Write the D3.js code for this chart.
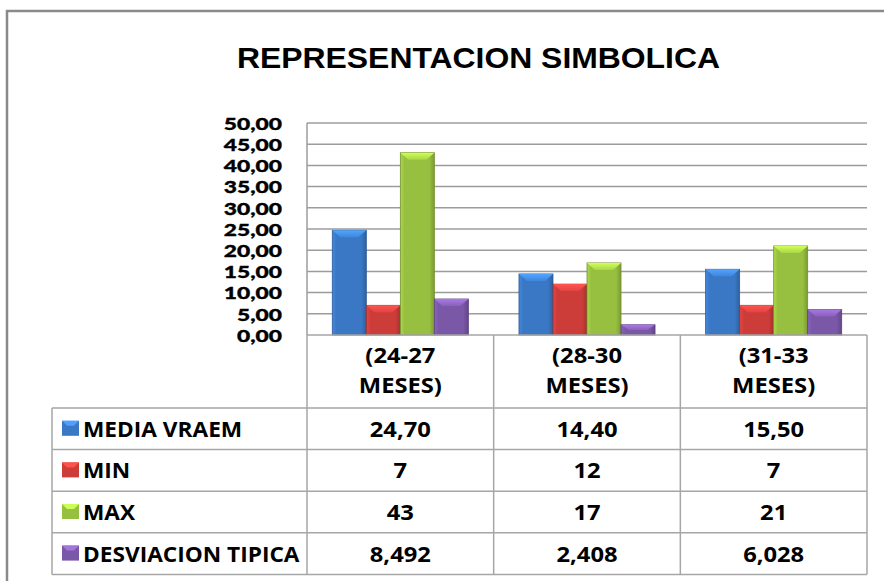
<!DOCTYPE html>
<html>
<head>
<meta charset="utf-8">
<script src="https://cdn.jsdelivr.net/npm/d3@7"></script>
<style>
  html, body { margin: 0; padding: 0; background: #fff; }
  svg { display: block; }
</style>
</head>
<body>
<svg id="chart" width="884" height="581"></svg>
<script>
// ---- DATA ----
const title = "REPRESENTACION SIMBOLICA";
const categories = ["(24-27 MESES)", "(28-30 MESES)", "(31-33 MESES)"];
const categoryLines = [["(24-27", "MESES)"], ["(28-30", "MESES)"], ["(31-33", "MESES)"]];
const seriesNames = ["MEDIA VRAEM", "MIN", "MAX", "DESVIACION TIPICA"];
const mediaVraem = [24.70, 14.40, 15.50];
const minValues = [7, 12, 7];
const maxValues = [43, 17, 21];
const desviacionTipica = [8.492, 2.408, 6.028];
const seriesDecimals = [2, 0, 0, 3];
const yTicks = [0, 5, 10, 15, 20, 25, 30, 35, 40, 45, 50];
const seriesColors = ["#3a78c6", "#cc3d3a", "#98c040", "#7b57a8"];

const seriesValues = [mediaVraem, minValues, maxValues, desviacionTipica];

// ---- LAYOUT ----
const svg = d3.select("#chart");
const plotL = 307, plotR = 867, plotT = 123, plotB = 335;
const tableL = 52, headerB = 408, rowH = 41.6;
const gridColor = "#9c9c9c";
const fontUI = "'Open Sans', 'Lato', sans-serif";
const tableFont = 22;

const locale = d3.formatLocale({decimal: ",", thousands: ".", grouping: [3], currency: ["", ""]});

const y = d3.scaleLinear().domain([0, 50]).range([plotB, plotT]);
const x = d3.scaleBand().domain(categories).range([plotL, plotR]).padding(0);
const bw = x.bandwidth();
const groupPad = 25.3;
const xs = d3.scaleBand().domain(seriesNames).range([groupPad, bw - groupPad]).padding(0);

// outer frame
svg.append("path")
  .attr("d", `M7,581 L7,11 L884,11`)
  .attr("fill", "none").attr("stroke", "#8a8a8a").attr("stroke-width", 2.5);

// title
svg.append("g").attr("transform", "translate(478.5,67.5) scale(1.1,1)")
  .append("text")
  .attr("x", 0).attr("y", 0)
  .attr("text-anchor", "middle")
  .attr("font-family", "'Liberation Sans', Arial, sans-serif")
  .attr("font-weight", "bold")
  .attr("font-size", 29)
  .attr("fill", "#000")
  .text(title);

// gridlines
svg.append("g").selectAll("line")
  .data(yTicks.filter(d => d > 0))
  .join("line")
  .attr("x1", plotL).attr("x2", plotR)
  .attr("y1", d => y(d)).attr("y2", d => y(d))
  .attr("stroke", gridColor).attr("stroke-width", 1.5);

// y axis line
svg.append("line")
  .attr("x1", plotL).attr("x2", plotL).attr("y1", plotT).attr("y2", plotB)
  .attr("stroke", gridColor).attr("stroke-width", 1.5);

// y tick labels via d3 axis
const yAxis = d3.axisLeft(y).tickValues(yTicks).tickSize(0).tickPadding(0)
  .tickFormat(d => locale.format(".2f")(d));
const gy = svg.append("g").attr("transform", `translate(282,0)`).call(yAxis);
gy.select(".domain").remove();
gy.selectAll("text")
  .attr("font-family", "Lato, 'Open Sans', sans-serif")
  .attr("font-weight", 900)
  .attr("font-size", 17.5)
  .attr("fill", "#000")
  .attr("stroke", "#000")
  .attr("stroke-width", 0.35)
  .attr("x", 0)
  .attr("dy", "0.36em")
  .attr("transform", "scale(1.3,1)");

// gradients
const defs = svg.append("defs");
seriesColors.forEach((c, i) => {
  const base = d3.color(c);
  const g = defs.append("linearGradient").attr("id", "bar" + i)
    .attr("x1", "0").attr("x2", "1").attr("y1", "0").attr("y2", "0");
  g.append("stop").attr("offset", "0").attr("stop-color", base.brighter(0.35));
  g.append("stop").attr("offset", "0.12").attr("stop-color", base);
  g.append("stop").attr("offset", "0.85").attr("stop-color", base);
  g.append("stop").attr("offset", "1").attr("stop-color", base.darker(0.6));
  const t = defs.append("linearGradient").attr("id", "top" + i)
    .attr("x1", "0").attr("x2", "0").attr("y1", "0").attr("y2", "1");
  t.append("stop").attr("offset", "0").attr("stop-color", base.brighter(0.9));
  t.append("stop").attr("offset", "1").attr("stop-color", base.brighter(0.3));
});

// bars
const barData = [];
categories.forEach((cat, ci) => {
  seriesNames.forEach((s, si) => {
    barData.push({cat, s, si, v: seriesValues[si][ci]});
  });
});
const gb = svg.append("g");
const bars = gb.selectAll("g.bar").data(barData).join("g").attr("class", "bar");
bars.append("rect")
  .attr("x", d => x(d.cat) + xs(d.s))
  .attr("y", d => y(d.v))
  .attr("width", xs.bandwidth())
  .attr("height", d => y(0) - y(d.v))
  .attr("fill", d => `url(#bar${d.si})`)
  .attr("stroke", d => d3.color(seriesColors[d.si]).darker(0.8))
  .attr("stroke-width", 0.8);
bars.append("path")
  .attr("d", d => {
    const x0 = x(d.cat) + xs(d.s), x1 = x0 + xs.bandwidth();
    const y0 = y(d.v);
    const b = Math.min(7, (y(0) - y(d.v)) / 2);
    return `M${x0},${y0} L${x1},${y0} L${x1 - 8},${y0 + b} L${x0 + 8},${y0 + b} Z`;
  })
  .attr("fill", d => `url(#top${d.si})`);

// ---- DATA TABLE ----
const tableColor = "#a6a6a6";
const tb = svg.append("g").attr("stroke", tableColor).attr("stroke-width", 1.5);
const tableB = headerB + rowH * seriesNames.length;
tb.append("line").attr("x1", plotL).attr("x2", plotR).attr("y1", plotB).attr("y2", plotB);
tb.selectAll("line.row").data(d3.range(seriesNames.length + 1)).join("line").attr("class", "row")
  .attr("x1", tableL).attr("x2", plotR)
  .attr("y1", i => headerB + i * rowH).attr("y2", i => headerB + i * rowH);
const vxs = [plotL, ...categories.map(c => x(c) + bw)];
tb.selectAll("line.col").data(vxs).join("line").attr("class", "col")
  .attr("x1", d => d).attr("x2", d => d).attr("y1", plotB).attr("y2", tableB);
tb.append("line").attr("x1", tableL).attr("x2", tableL).attr("y1", headerB).attr("y2", tableB);

function stretchedText(px, py, anchor, str, sx) {
  svg.append("g").attr("transform", `translate(${px},${py}) scale(${sx},1)`)
    .append("text")
    .attr("x", 0).attr("y", 0).attr("dy", "0.36em")
    .attr("text-anchor", anchor)
    .attr("font-family", fontUI).attr("font-weight", "bold").attr("font-size", tableFont)
    .attr("fill", "#000").text(str);
}

// category header labels
categories.forEach((c, ci) => {
  categoryLines[ci].forEach((ln, li) => {
    stretchedText(x(c) + bw / 2, 355.5 + li * 29.5, "middle", ln, 1.08);
  });
});

// row legend + values
seriesNames.forEach((s, si) => {
  const cy = headerB + si * rowH + rowH / 2;
  const base = d3.color(seriesColors[si]);
  svg.append("rect")
    .attr("x", 62).attr("y", cy - 8).attr("width", 17).attr("height", 15)
    .attr("fill", base);
  svg.append("path")
    .attr("d", `M62,${cy - 8} L79,${cy - 8} L74,${cy - 3} L67,${cy - 3} Z`)
    .attr("fill", base.brighter(0.8));
  stretchedText(83, cy, "start", s, 1.03);
  const fmt = locale.format("." + seriesDecimals[si] + "f");
  categories.forEach((c, ci) => {
    stretchedText(x(c) + bw / 2, cy, "middle", fmt(seriesValues[si][ci]), 1.08);
  });
});
</script>
</body>
</html>
